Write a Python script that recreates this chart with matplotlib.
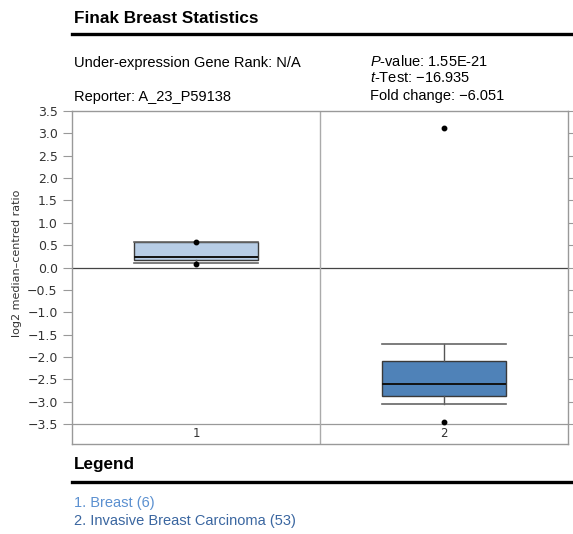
import matplotlib.pyplot as plt
from matplotlib.lines import Line2D

# Box statistics for the two groups
groups = ["1", "2"]
group_names = ["1. Breast (6)", "2. Invasive Breast Carcinoma (53)"]
q1 = [0.16, -2.88]
medians = [0.23, -2.60]
q3 = [0.58, -2.08]
whisker_low = [0.10, -3.06]
whisker_high = [0.58, -1.72]
min_points = [0.07, -3.45]
max_points = [0.57, 3.12]

box_colors = ["#b7cde6", "#4f82b8"]
legend_colors = ["#5b90d0", "#3a66a0"]
yticks = [3.5, 3.0, 2.5, 2.0, 1.5, 1.0, 0.5, 0.0, -0.5, -1.0, -1.5, -2.0, -2.5, -3.0, -3.5]

plt.rcParams["mathtext.fontset"] = "custom"
plt.rcParams["mathtext.it"] = "Liberation Sans:italic"
plt.rcParams["mathtext.rm"] = "Liberation Sans"

W, H = 573, 534
fig = plt.figure(figsize=(W / 100, H / 100), dpi=100)

def fx(px):
    return px / W

def fy(py):
    return 1 - py / H

BODY = 10.5
MINUS = "\u2212"

# header block
fig.text(fx(74), fy(23), "Finak Breast Statistics", fontsize=12.3, fontweight="bold",
         family="Liberation Sans", va="baseline")
fig.add_artist(Line2D([fx(72), 1], [fy(33.5), fy(33.5)], color="black", lw=2.4))
fig.text(fx(74), fy(66.5), "Under-expression Gene Rank: N/A", fontsize=BODY,
         family="Liberation Sans", va="baseline")
fig.text(fx(74), fy(101), "Reporter: A_23_P59138", fontsize=BODY,
         family="Liberation Sans", va="baseline")
fig.text(fx(370), fy(65.5), r"$\it{P}$-value: 1.55E-21", fontsize=BODY,
         family="Liberation Sans", va="baseline")
fig.text(fx(370), fy(82.5), r"$\it{t}$-Test: " + MINUS + "16.935", fontsize=BODY,
         family="Liberation Sans", va="baseline")
fig.text(fx(370), fy(100), "Fold change: " + MINUS + "6.051", fontsize=BODY,
         family="Liberation Sans", va="baseline")

# plot area
ax = fig.add_axes([fx(72), fy(444), fx(568) - fx(72), fy(111) - fy(444)])
stats = []
for i in range(len(groups)):
    stats.append({"med": medians[i], "q1": q1[i], "q3": q3[i],
                  "whislo": whisker_low[i], "whishi": whisker_high[i],
                  "fliers": [min_points[i], max_points[i]]})

bp = ax.bxp(stats, positions=[1, 2], widths=0.5, patch_artist=True,
            boxprops=dict(edgecolor="#3a3a3a", linewidth=1.0),
            medianprops=dict(color="#111111", linewidth=1.4),
            whiskerprops=dict(color="#555555", linewidth=1.0),
            capprops=dict(color="#666666", linewidth=1.2),
            flierprops=dict(marker="o", markerfacecolor="black", markeredgecolor="black",
                            markersize=3.2))
for patch, c in zip(bp["boxes"], box_colors):
    patch.set_facecolor(c)
for cap in bp["caps"]:
    cap.set_xdata([cap.get_xdata()[0] - 0.125, cap.get_xdata()[1] + 0.125])

ax.set_xlim(0.5, 2.5)
ax.set_ylim(-3.947, 3.5)
ax.axhline(0, color="#444444", lw=0.9, zorder=0)
ax.axhline(-3.5, color="#999999", lw=0.9, zorder=0)
ax.axvline(1.5, color="#aaaaaa", lw=1.0, zorder=0)
for i, g in enumerate(groups):
    ax.text(i + 1, -3.72, g, ha="center", va="center", fontsize=8.5, color="#333333")

ax.set_xticks([])
ax.set_yticks(yticks)
ax.set_yticklabels([f"{v:.1f}".replace("-", MINUS) for v in yticks])
ax.tick_params(axis="y", direction="out", length=6.3, width=0.8, color="#999999",
               labelsize=9, labelcolor="#333333", right=True, pad=4)
for s in ax.spines.values():
    s.set_color("#999999")
    s.set_linewidth(1.0)
ax.set_ylabel("log2 median\u2013centred ratio", fontsize=8, color="#333333")
ax.yaxis.set_label_coords(-0.100, 0.5435)

# legend block
fig.text(fx(74), fy(469.5), "Legend", fontsize=12.3, fontweight="bold",
         family="Liberation Sans", va="baseline")
fig.add_artist(Line2D([fx(72), 1], [fy(482), fy(482)], color="black", lw=2.4))
for i, (name, c) in enumerate(zip(group_names, legend_colors)):
    fig.text(fx(74), fy(506.5 + 18.5 * i), name, fontsize=BODY, color=c,
             family="Liberation Sans", va="baseline")

fig.savefig("out.png", dpi=100)
